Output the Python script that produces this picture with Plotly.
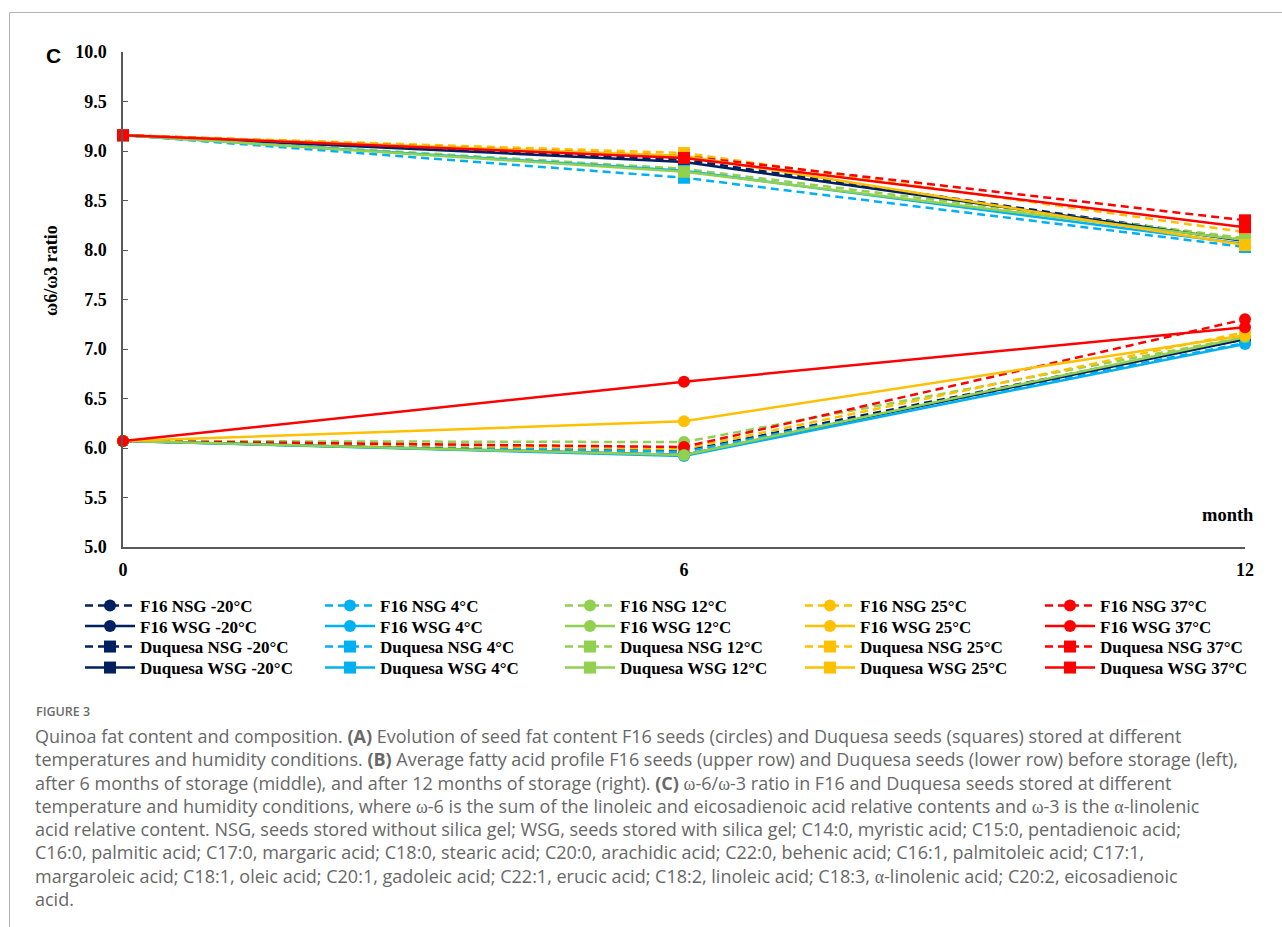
import plotly.graph_objects as go

# Storage time (months)
months = [0, 6, 12]
x_tick_labels = ["0", "6", "12"]

# Storage temperatures and the colour used for each
temperatures = ["-20°C", "4°C", "12°C", "25°C", "37°C"]
temp_colors = ["#002060", "#00B0F0", "#92D050", "#FFC000", "#FF0000"]

# ω6/ω3 ratio at 0, 6 and 12 months, one row per temperature (-20, 4, 12, 25, 37 °C)
f16_nsg = [[6.07, 5.97, 7.10], [6.07, 5.96, 7.06], [6.07, 6.06, 7.12], [6.07, 5.99, 7.17], [6.07, 6.01, 7.30]]
f16_wsg = [[6.07, 5.93, 7.10], [6.07, 5.92, 7.05], [6.07, 5.93, 7.12], [6.07, 6.27, 7.14], [6.07, 6.67, 7.22]]
duquesa_nsg = [[9.16, 8.91, 8.10], [9.16, 8.73, 8.03], [9.16, 8.82, 8.12], [9.16, 8.98, 8.18], [9.16, 8.95, 8.30]]
duquesa_wsg = [[9.16, 8.89, 8.09], [9.16, 8.80, 8.06], [9.16, 8.79, 8.10], [9.16, 8.95, 8.05], [9.16, 8.93, 8.23]]

y_ticks = [5.0, 5.5, 6.0, 6.5, 7.0, 7.5, 8.0, 8.5, 9.0, 9.5, 10.0]

caption_title = "FIGURE 3"
W_ = "<span style=\"font-family:'Liberation Serif'\">ω</span>"
A_ = "<span style=\"font-family:'Liberation Serif'\">α</span>"
caption_lines = [
    "Quinoa fat content and composition. <b>(A)</b> Evolution of seed fat content F16 seeds (circles) and Duquesa seeds (squares) stored at different",
    "temperatures and humidity conditions. <b>(B)</b> Average fatty acid profile F16 seeds (upper row) and Duquesa seeds (lower row) before storage (left),",
    f"after 6 months of storage (middle), and after 12 months of storage (right). <b>(C)</b> {W_}-6/{W_}-3 ratio in F16 and Duquesa seeds stored at different",
    f"temperature and humidity conditions, where {W_}-6 is the sum of the linoleic and eicosadienoic acid relative contents and {W_}-3 is the {A_}-linolenic",
    "acid relative content. NSG, seeds stored without silica gel; WSG, seeds stored with silica gel; C14:0, myristic acid; C15:0, pentadienoic acid;",
    "C16:0, palmitic acid; C17:0, margaric acid; C18:0, stearic acid; C20:0, arachidic acid; C22:0, behenic acid; C16:1, palmitoleic acid; C17:1,",
    f"margaroleic acid; C18:1, oleic acid; C20:1, gadoleic acid; C22:1, erucic acid; C18:2, linoleic acid; C18:3, {A_}-linolenic acid; C20:2, eicosadienoic",
    "acid.",
]

# Page geometry (pixels) of the plotting area
W, H = 1282, 927
L, R, T, B = 123, 1245, 52, 547


def px(x):
    return (x - L) / (R - L)


def py(y):
    return (B - y) / (B - T)


SERIF = "Liberation Serif"
groups = [
    ("F16 NSG", f16_nsg, "circle", "8px,5px"),
    ("F16 WSG", f16_wsg, "circle", "solid"),
    ("Duquesa NSG", duquesa_nsg, "square", "8px,5px"),
    ("Duquesa WSG", duquesa_wsg, "square", "solid"),
]
legend_ids = ["legend", "legend2", "legend3", "legend4"]
legend_rows_y = [606, 626.5, 647, 668]

fig = go.Figure()
for (label, rows, symbol, dash), legend_id in zip(groups, legend_ids):
    for temp, color, values in zip(temperatures, temp_colors, rows):
        fig.add_trace(go.Scatter(
            x=months, y=values, name=f"{label} {temp}",
            mode="lines+markers",
            line=dict(color=color, width=2.5, dash=dash),
            marker=dict(symbol=symbol, size=12, color=color),
            cliponaxis=False, legend=legend_id,
        ))

annotations = [
    dict(text="C", x=px(53), y=py(55), xref="paper", yref="paper", showarrow=False,
         xanchor="center", yanchor="middle",
         font=dict(family="Liberation Sans", size=21, color="black", weight="bold")),
    dict(text="ω6/ω3 ratio", x=px(51), y=py(270), xref="paper", yref="paper", showarrow=False,
         xanchor="center", yanchor="middle", textangle=-90,
         font=dict(family=SERIF, size=18, color="black", weight="bold")),
    dict(text="month", x=px(1256), y=py(515), xref="paper", yref="paper", showarrow=False,
         xanchor="right", yanchor="middle",
         font=dict(family=SERIF, size=18.5, color="black", weight="bold")),
    dict(text=caption_title, x=px(34), y=py(711), xref="paper", yref="paper", showarrow=False,
         xanchor="left", yanchor="middle",
         font=dict(family="Open Sans", size=12.5, color="#6b6b6b", weight=600)),
]
for i, line in enumerate(caption_lines):
    annotations.append(dict(
        text=line, x=px(33), y=py(736 + i * 23.3), xref="paper", yref="paper", showarrow=False,
        xanchor="left", yanchor="middle", align="left",
        font=dict(family="Open Sans", size=18, color="#686868"),
    ))

legend_style = dict(
    orientation="h", x=px(80), xanchor="left", yanchor="middle",
    entrywidth=175, itemwidth=50, traceorder="normal",
    font=dict(family=SERIF, size=17, color="black", weight="bold"),
    bgcolor="rgba(0,0,0,0)",
)
legend_layout = {lid: dict(legend_style, y=py(ry)) for lid, ry in zip(legend_ids, legend_rows_y)}

fig.update_layout(
    width=W, height=H,
    margin=dict(l=L, r=W - R, t=T, b=H - B, autoexpand=False),
    paper_bgcolor="white", plot_bgcolor="white",
    showlegend=True,
    xaxis=dict(
        range=[0, 12], tickvals=months, ticktext=x_tick_labels, ticks="",
        showgrid=False, zeroline=False, showline=True, linecolor="#595959", linewidth=1.5,
        ticklabelstandoff=6,
        tickfont=dict(family=SERIF, size=18, color="black", weight="bold"),
    ),
    yaxis=dict(
        range=[5, 10], tickvals=y_ticks, tickformat=".1f", ticks="inside", ticklen=5,
        tickcolor="#595959", showgrid=False, zeroline=False, showline=True,
        linecolor="#595959", linewidth=1.5, ticklabelstandoff=11,
        tickfont=dict(family=SERIF, size=18, color="black", weight="bold"),
    ),
    annotations=annotations,
    shapes=[
        dict(type="line", xref="paper", yref="paper", x0=px(9.5), y0=py(12.5), x1=px(1282), y1=py(12.5),
             line=dict(color="#b4b4b4", width=1)),
        dict(type="line", xref="paper", yref="paper", x0=px(9.5), y0=py(12.5), x1=px(9.5), y1=py(927),
             line=dict(color="#b4b4b4", width=1)),
    ],
    **legend_layout,
)

fig.write_html("out.html")
